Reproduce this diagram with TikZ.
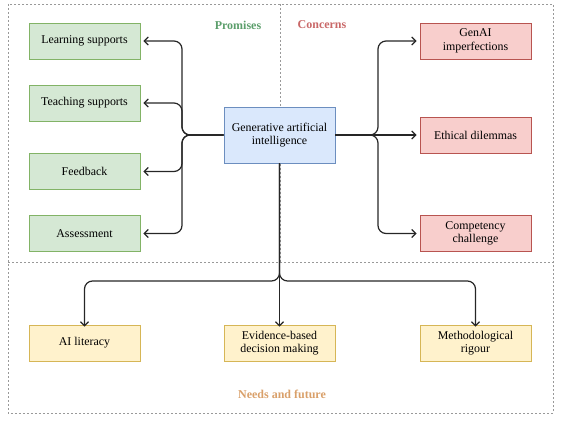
\documentclass[tikz,border=0pt]{standalone}
\usepackage{fontspec}
\setmainfont{Liberation Serif}
\usetikzlibrary{arrows.meta}
\definecolor{gfill}{HTML}{D5E8D4}\definecolor{gline}{HTML}{82B366}
\definecolor{rfill}{HTML}{F8CECC}\definecolor{rline}{HTML}{B85450}
\definecolor{bfill}{HTML}{DAE8FC}\definecolor{bline}{HTML}{6C8EBF}
\definecolor{yfill}{HTML}{FFF2CC}\definecolor{yline}{HTML}{D6B656}
\definecolor{ptext}{HTML}{5B9E6B}\definecolor{ctext}{HTML}{C96868}\definecolor{ntext}{HTML}{D9A06A}
\begin{document}
\begin{tikzpicture}[x=1pt,y=-1pt,
  box/.style={draw,line width=0.9pt,minimum width=111pt,minimum height=36pt,inner sep=1pt,align=center,font=\fontsize{11.9}{13.5}\selectfont},
  gbox/.style={box,fill=gfill,draw=gline},
  rbox/.style={box,fill=rfill,draw=rline},
  bbox/.style={box,fill=bfill,draw=bline,minimum height=56pt},
  ybox/.style={box,fill=yfill,draw=yline},
  conn/.style={draw=black!85,line width=1.2pt,rounded corners=8pt,-{Straight Barb[length=4pt,width=8pt]}},
  region/.style={draw=black!40,line width=0.6pt,dash pattern=on 2pt off 2pt},
  title/.style={font=\bfseries\fontsize{12}{13.5}\selectfont}]
\useasboundingbox (0,0) rectangle (564,420);
% regions
\draw[region] (8,4) rectangle (553,413);
\draw[region] (8,262) -- (553,262);
\draw[region] (280,4) -- (280,262);
\node[title,text=ptext] (tp) at (238,25) {Promises};
\node[title,text=ctext] (tc) at (322,25) {Concerns};
\node[title,text=ntext] (tn) at (282,394) {Needs and future};
% nodes
\node[bbox] (g) at (279.5,135) {Generative artificial\\intelligence};
\node[gbox] (l1) at (84.5,41) {Learning supports};
\node[gbox] (l2) at (84.5,103) {Teaching supports};
\node[gbox] (l3) at (84.5,171.5) {Feedback};
\node[gbox] (l4) at (84.5,233.5) {Assessment};
\node[rbox] (r1) at (475.5,41) {GenAI\\imperfections};
\node[rbox] (r2) at (475.5,135) {Ethical dilemmas};
\node[rbox] (r3) at (475.5,233.5) {Competency\\challenge};
\node[ybox] (b1) at (84.5,343) {AI literacy};
\node[ybox] (b2) at (279.5,343) {Evidence-based\\decision making};
\node[ybox] (b3) at (475.5,343) {Methodological\\rigour};
% left bus
\coordinate (lb) at (182,135);
\foreach \t in {l1,l2,l3,l4}{
  \draw[conn] (g.west) -- (lb) |- ([xshift=3pt]\t.east);
}
% right bus
\coordinate (rb) at (378,135);
\foreach \t in {r1,r3}{
  \draw[conn] (g.east) -- (rb) |- ([xshift=-3pt]\t.west);
}
\draw[conn] (g.east) -- ([xshift=-3pt]r2.west);
% bottom
\coordinate (hb) at (279.5,281);
\draw[conn] (g.south) -- ([yshift=-2pt]b2.north);
\draw[conn] (g.south) -- (hb) -| ([yshift=-2pt]b1.north);
\draw[conn] (g.south) -- (hb) -| ([yshift=-2pt]b3.north);
\end{tikzpicture}
\end{document}
